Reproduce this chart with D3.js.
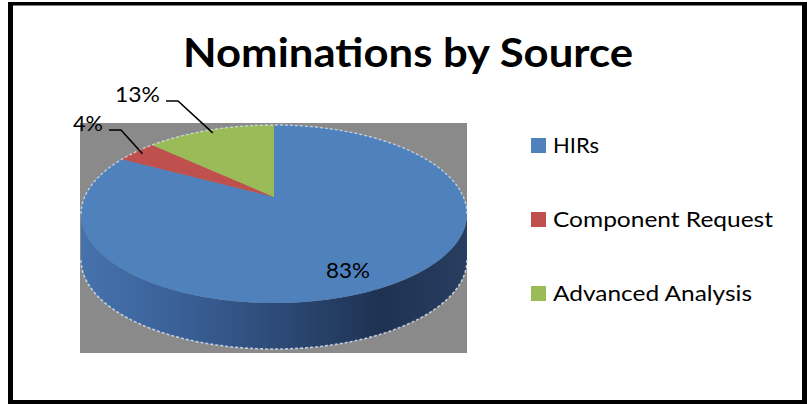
<!DOCTYPE html>
<html>
<head>
<meta charset="utf-8">
<script src="https://cdn.jsdelivr.net/npm/d3@7"></script>
<style>
  html, body { margin: 0; padding: 0; background: #ffffff; }
  svg { display: block; }
  text { font-family: Lato, "Noto Sans", sans-serif; fill: #000; }
</style>
</head>
<body>
<svg id="chart" width="807" height="404"></svg>
<script>
// ---- data ----
const title = "Nominations by Source";
const categories = ["HIRs", "Component Request", "Advanced Analysis"];
const values = [83, 4, 13];
const valueLabels = ["83%", "4%", "13%"];
const colors = ["#4f81bd", "#c0504d", "#9bbb59"];

// ---- layout ----
const svg = d3.select("#chart");
const W = 807, H = 404;

svg.append("rect").attr("x", 0).attr("y", 0).attr("width", W).attr("height", H).attr("fill", "#fff");

// plot area background
svg.append("rect").attr("x", 80).attr("y", 123).attr("width", 387).attr("height", 230).attr("fill", "#8a8a8a");

// 3D pie geometry (perspective projection of a tilted disk)
const cx = 274, cy = 197;   // projected centre (apex of slices)
const p = 0.191;            // perspective strength
const a = 189.4, b = 85.8;  // projected radii
const depth = 46;

const xs = d3.scaleLinear().domain([-1, 1]).range([cx - a, cx + a]);
const ys = d3.scaleLinear().domain([-1, 1]).range([cy - b, cy + b]);

function project(r, t) {
  const u = r * Math.sin(t), v = -r * Math.cos(t);
  const d = 1 - p * v;
  return [xs(u / d), ys(v / d)];
}
function rimPoints(t0, t1, r = 1, dy = 0) {
  const n = Math.max(2, Math.ceil(Math.abs(t1 - t0) / 0.01));
  const pts = [];
  for (let i = 0; i <= n; i++) {
    const t = t0 + (t1 - t0) * i / n;
    const q = project(r, t);
    pts.push([q[0], q[1] + dy]);
  }
  return pts;
}
const line = d3.line();

const arcs = d3.pie().sort(null).value(d => d).startAngle(0).endAngle(2 * Math.PI)(values);

// side gradient
const defs = svg.append("defs");
const grad = defs.append("linearGradient").attr("id", "sideGrad")
  .attr("gradientUnits", "userSpaceOnUse")
  .attr("x1", cx - a * 1.02).attr("y1", 0).attr("x2", cx + a * 1.02).attr("y2", 0);
[[0, "#4672ac"], [0.25, "#3a6198"], [0.5, "#2d4b78"], [0.78, "#1f3252"], [1, "#283e60"]]
  .forEach(s => grad.append("stop").attr("offset", s[0]).attr("stop-color", s[1]));

// visible side (front part, between horizontal silhouettes)
const tR = Math.acos(-p), tL = 2 * Math.PI - Math.acos(-p);
const sideTop = rimPoints(tR, tL);
const sideBot = rimPoints(tL, tR, 1, depth);
svg.append("path")
  .attr("d", line(sideTop.concat(sideBot)) + "Z")
  .attr("fill", "url(#sideGrad)");

// top faces
svg.selectAll("path.slice").data(arcs).enter().append("path")
  .attr("class", "slice")
  .attr("d", d => line([[cx, cy]].concat(rimPoints(d.startAngle, d.endAngle))) + "Z")
  .attr("fill", (d, i) => colors[i]);

// light rim highlight
svg.append("path")
  .attr("d", line(rimPoints(tL - 2 * Math.PI, tR)))
  .attr("fill", "none").attr("stroke", "#d8e4f2").attr("stroke-width", 1.4)
  .attr("stroke-dasharray", "3,2").attr("opacity", 0.75);
svg.append("path")
  .attr("d", line(rimPoints(tR, tL, 1, depth)))
  .attr("fill", "none").attr("stroke", "#d8e4f2").attr("stroke-width", 1.6)
  .attr("stroke-dasharray", "3,2").attr("opacity", 0.8);

// data labels
const mid = d => (d.startAngle + d.endAngle) / 2;
// inside label for the large slice
{
  const d = arcs[0];
  const q = project(0.75, mid(d));
  svg.append("text").attr("x", q[0] - 8.5).attr("y", q[1] + 18)
    .attr("text-anchor", "middle").attr("font-size", 22)
    .attr("textLength", 44).attr("lengthAdjust", "spacingAndGlyphs")
    .text(valueLabels[0]);
}
// outside labels with leader lines
const outside = [
  { i: 2, textEnd: 160, base: 102, w: 45 },
  { i: 1, textEnd: 103, base: 131, w: 30 }
];
outside.forEach(o => {
  const d = arcs[o.i];
  const anchor = project(0.95, mid(d));
  const ly = o.base - 1;
  svg.append("path")
    .attr("d", line([[o.textEnd + 6, ly], [o.textEnd + 18, ly], anchor]))
    .attr("fill", "none").attr("stroke", "#000").attr("stroke-width", 1.6);
  svg.append("text").attr("x", o.textEnd).attr("y", o.base)
    .attr("text-anchor", "end").attr("font-size", 21)
    .attr("textLength", o.w).attr("lengthAdjust", "spacingAndGlyphs")
    .text(valueLabels[o.i]);
});

// title
svg.append("text").attr("x", 183).attr("y", 67)
  .attr("font-size", 40).attr("font-weight", "bold")
  .attr("textLength", 450).attr("lengthAdjust", "spacingAndGlyphs")
  .text(title);

// legend
const legendWidths = [46, 220, 199];
const ly = d3.scalePoint().domain(categories).range([145.5, 293.5]);
const lg = svg.append("g");
categories.forEach((c, i) => {
  lg.append("rect").attr("x", 531).attr("y", ly(c) - 7.5).attr("width", 15).attr("height", 15)
    .attr("fill", colors[i]);
  lg.append("text").attr("x", 553).attr("y", ly(c) + 7.5)
    .attr("font-size", 21)
    .attr("textLength", legendWidths[i]).attr("lengthAdjust", "spacingAndGlyphs")
    .text(c);
});

// outer border
svg.append("rect").attr("x", 8).attr("y", 2).attr("width", 5).attr("height", 402).attr("fill", "#000");
svg.append("rect").attr("x", 8).attr("y", 2).attr("width", 799).attr("height", 3.5).attr("fill", "#000");
svg.append("rect").attr("x", 802).attr("y", 2).attr("width", 5).attr("height", 402).attr("fill", "#000");
svg.append("rect").attr("x", 8).attr("y", 400).attr("width", 799).attr("height", 4).attr("fill", "#000");
</script>
</body>
</html>
